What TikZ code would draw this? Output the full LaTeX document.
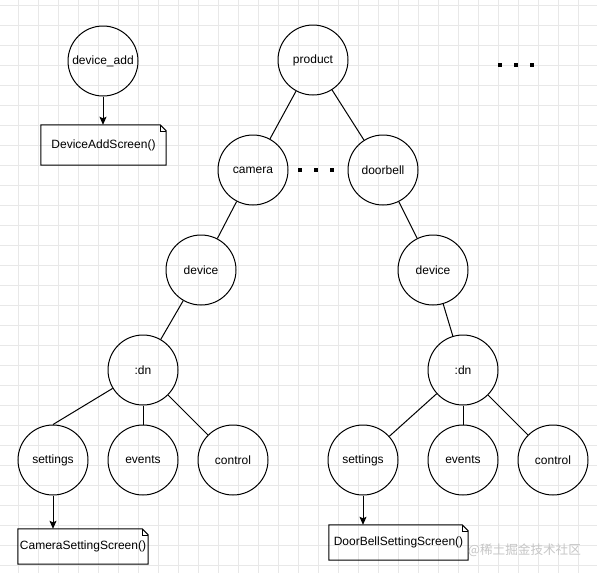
\documentclass[tikz,border=0pt]{standalone}
\usepackage{fontspec}
\setmainfont{Liberation Sans}
\newfontfamily\cjkfont{Noto Sans CJK SC}
\usetikzlibrary{arrows.meta}

\definecolor{gridgray}{RGB}{232,232,232}

\tikzset{
  tnode/.style={draw,circle,minimum size=70pt,inner sep=0pt,line width=1pt,
    font=\fontsize{12}{14}\selectfont},
  screen/.style={inner sep=0pt,font=\fontsize{12}{14}\selectfont},
  link/.style={line width=1pt},
  gridline/.style={gridgray,line width=0.7pt},
}

\begin{document}
\begin{tikzpicture}[x=1pt,y=-1pt,>={Stealth[length=8pt,width=7pt,inset=1.5pt]}]
  \useasboundingbox (0,0) rectangle (597,573);
  \fill[white] (0,0) rectangle (597,573);
  \foreach \gx in {18,38,...,578} \draw[gridline] (\gx,0) -- (\gx,573);
  \foreach \gy in {5,25,...,565} \draw[gridline] (0,\gy) -- (597,\gy);

  \node[tnode] (devAdd) at (103,61) {device\_add};
  \node[tnode] (product) at (313,60) {product};
  \node[tnode] (camera) at (253,170) {camera};
  \node[tnode] (doorbell) at (383,170) {doorbell};
  \node[tnode] (devL) at (201,270) {device};
  \node[tnode] (devR) at (433,270) {device};
  \node[tnode] (dnL) at (143,370) {:dn};
  \node[tnode] (dnR) at (463,370) {:dn};
  \node[tnode] (setL) at (53,460) {settings};
  \node[tnode] (evL) at (143,460) {events};
  \node[tnode] (ctlL) at (233,460) {control};
  \node[tnode] (setR) at (363,460) {settings};
  \node[tnode] (evR) at (463,460) {events};
  \node[tnode] (ctlR) at (553,460) {control};

  \node[screen,minimum width=125pt,minimum height=40pt] (addScreen) at (103.5,145) {DeviceAddScreen()};
  \node[screen,minimum width=130pt,minimum height=35pt] (camScreen) at (83,546.5) {CameraSettingScreen()};
  \node[screen,minimum width=139pt,minimum height=35pt] (doorScreen) at (398.5,542.5) {DoorBellSettingScreen()};
  \foreach \s in {addScreen,camScreen,doorScreen}{
    \draw[link] (\s.north west) -- ([xshift=-6pt]\s.north east) -- ([yshift=-6pt]\s.north east)
      -- (\s.south east) -- (\s.south west) -- cycle;
    \draw[thin] ([xshift=-6pt]\s.north east) -- ([xshift=-6pt,yshift=-6pt]\s.north east)
      -- ([yshift=-6pt]\s.north east);
  }

  \draw[link] (product) -- (camera);
  \draw[link] (product) -- (doorbell);
  \draw[link] (camera) -- (devL);
  \draw[link] (doorbell) -- (devR);
  \draw[link] (devL) -- (dnL);
  \draw[link] (devR) -- (dnR);
  \draw[link] (dnL) -- (setL.north);
  \draw[link] (dnL) -- (evL);
  \draw[link] (dnL) -- (ctlL);
  \draw[link] (dnR) -- (setR);
  \draw[link] (dnR) -- (evR);
  \draw[link] (dnR) -- (ctlR);

  \draw[link,->] (devAdd) -- (devAdd |- addScreen.north);
  \draw[link,->] (setL) -- (setL |- camScreen.north);
  \draw[link,->] (setR) -- (setR |- doorScreen.north);

  \foreach \dx in {300,316,332} \fill (\dx-2,168) rectangle (\dx+2,172);
  \foreach \dx in {500,516,532} \fill (\dx-2,63) rectangle (\dx+2,67);

  \node[text=gray!45,font=\cjkfont\fontsize{12.6}{15}\selectfont,anchor=west,inner sep=0pt] (mark) at (468,550) {@稀土掘金技术社区};
\end{tikzpicture}
\end{document}
